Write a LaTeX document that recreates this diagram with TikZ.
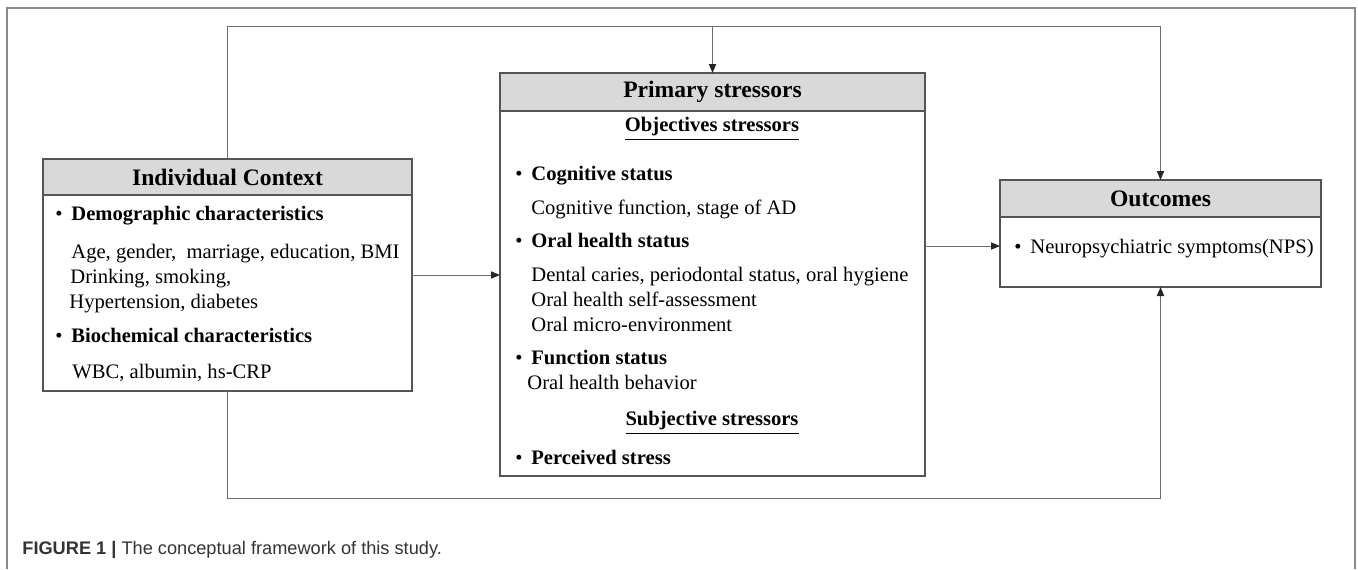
\documentclass[tikz,border=0pt]{standalone}
\usepackage{fontspec}
\setmainfont{Liberation Serif}
\setsansfont{Liberation Sans}
\usetikzlibrary{arrows.meta,positioning}
\definecolor{boxline}{HTML}{555555}
\definecolor{linkline}{HTML}{6E6E6E}
\definecolor{headfill}{HTML}{D9D9D9}
\definecolor{framegray}{HTML}{8A8A8A}
\newcommand{\itm}[1]{\makebox[8pt][l]{\textbullet}\textbf{#1}}
\tikzset{
	head/.style={
		draw=boxline,
		fill=headfill,
		line width=0.65pt,
		inner sep=0pt,
		outer sep=0pt,
		font=\fontsize{11.8}{14}\selectfont\bfseries
	},
	body/.style={
		draw=boxline,
		line width=0.65pt,
		inner sep=0pt,
		outer sep=0pt
	},
	txt/.style={
		inner sep=0pt,
		anchor=north west,
		font=\fontsize{10.3}{12.5}\selectfont
	},
	link/.style={
		draw=linkline,
		line width=0.5pt
	},
	arr/.style={
		link,
		-{Triangle[length=4.5pt,width=3.6pt,color=black!85]}
	}
}

\begin{document}
\begin{tikzpicture}[x=0.5pt,y=-0.5pt]
	\useasboundingbox (0,0) rectangle (1358,569);
	\draw[framegray, line width=0.75pt] (7,569) -- (7,8) -- (1355,8) -- (1355,569);

	% individual context
	\node[head, minimum width=184.5pt, minimum height=18pt] (ctxhead) at (227.5,177) {Individual Context};
	\node[body, minimum width=184.5pt, minimum height=98pt, below=0pt of ctxhead] (ctx) {};
	\node[txt] (ctxtxt) at (55,202.5) {
		\begin{tabular}{@{}l@{}}
			\itm{Demographic characteristics}\\[6.5pt]
			\hspace{8pt}Age, gender,\ \ marriage, education, BMI\\
			\hspace{7.5pt}Drinking, smoking,\\
			\hspace{7pt}Hypertension, diabetes\\[4.5pt]
			\itm{Biochemical characteristics}\\[5.5pt]
			\hspace{8.5pt}WBC, albumin, hs-CRP
		\end{tabular}};

	% primary stressors
	\node[head, minimum width=212.5pt, minimum height=19pt] (stresshead) at (712.5,92) {Primary stressors};
	\node[body, minimum width=212.5pt, minimum height=182.5pt, below=0pt of stresshead] (stress) {};
	\node[txt, anchor=center, font=\fontsize{10.3}{12.5}\selectfont\bfseries] (objhead) at (712,129) {\underline{Objectives stressors}};
	\node[txt] (objtxt) at (515,162.5) {
		\begin{tabular}{@{}l@{}}
			\itm{Cognitive status}\\[4.5pt]
			\hspace{8pt}Cognitive function, stage of AD\\[4pt]
			\itm{Oral health status}\\[4.5pt]
			\hspace{8pt}Dental caries, periodontal status, oral hygiene\\
			\hspace{8pt}Oral health self-assessment\\
			\hspace{8pt}Oral micro-environment\\[4pt]
			\itm{Function status}\\
			\hspace{6pt}Oral health behavior
		\end{tabular}};
	\node[txt, anchor=center, font=\fontsize{10.3}{12.5}\selectfont\bfseries] (subhead) at (712,423) {\underline{Subjective stressors}};
	\node[txt, anchor=base west] (subtxt) at (515,464) {\itm{Perceived stress}};

	% outcomes
	\node[head, minimum width=160.5pt, minimum height=18.5pt] (outhead) at (1160.5,198.5) {Outcomes};
	\node[body, minimum width=160.5pt, minimum height=35pt, below=0pt of outhead] (out) {};
	\node[txt, anchor=base west] (outtxt) at (1014,253) {\makebox[8pt][l]{\textbullet}Neuropsychiatric symptoms(NPS)};

	% connectors
	\draw[arr] (ctxhead.north) -- (ctxhead.north |- 0,26) -| (outhead.north);
	\draw[arr] (stresshead.north |- 0,26) -- (stresshead.north);
	\draw[arr] (ctx.south) -- (ctx.south |- 0,498) -| (out.south);
	\draw[arr] (ctx.east |- 0,275) -- (stress.west |- 0,275);
	\draw[arr] (stress.east |- 0,246) -- (out.west |- 0,246);

	\node[anchor=base west, inner sep=0pt, text=black!80, font=\sffamily\fontsize{9.1}{11}\selectfont] (caption) at (22,554.5) {\textbf{FIGURE 1 |} The conceptual framework of this study.};
\end{tikzpicture}
\end{document}
